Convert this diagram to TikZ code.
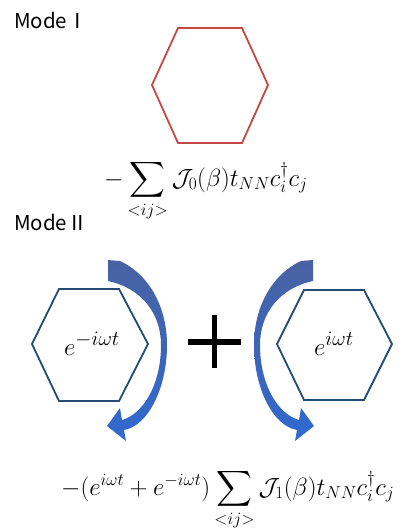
\documentclass[tikz,border=0pt]{standalone}
\usepackage{amsmath}
\usepackage{fontspec}
\newfontfamily\jpfont{Noto Sans CJK JP}
\definecolor{hexred}{RGB}{196,72,70}
\definecolor{hexblue}{RGB}{35,75,115}
\definecolor{arrtop}{RGB}{72,98,162}
\definecolor{arrbot}{RGB}{48,105,208}
\tikzset{
  modelabel/.style={anchor=west,inner sep=0pt,font=\jpfont\fontsize{20.5}{24}\selectfont},
  formulaA/.style={anchor=base west,inner sep=0pt,font=\fontsize{25}{29}\selectfont},
  formulaB/.style={anchor=base west,inner sep=0pt,font=\fontsize{23}{27}\selectfont},
  hextext/.style={anchor=base west,inner sep=0pt,font=\fontsize{32}{36}\selectfont},
  hexline/.style={line width=1.8pt,line join=miter},
  arrowfill/.style={top color=arrtop,bottom color=arrbot}
}
\begin{document}
\begin{tikzpicture}[x=1pt,y=-1pt]
\useasboundingbox (0,0) rectangle (415,531);
% Mode I
\node[modelabel] (m1) at (14,20) {ModeⅠ};
\draw[hexline,hexred] (152,85) -- (178,28) -- (242,28) -- (268,85) -- (242,143) -- (178,143) -- cycle;
\node[formulaA] (f1) at (104,186) {$-\displaystyle\sum_{<ij>}\mathcal{J}_0(\beta)t_{NN}c_i^\dagger c_j$};
% Mode II
\node[modelabel] (m2) at (14,222) {ModeⅡ};
\draw[hexline,hexblue] (32,344) -- (59,289) -- (119,289) -- (148,344) -- (119,401) -- (59,401) -- cycle;
\draw[hexline,hexblue] (277,344) -- (304,290) -- (364,290) -- (392,344) -- (364,400) -- (304,400) -- cycle;
\node[hextext] (tl) at (64,355) {$e^{-i\omega t}$};
\node[hextext] (tr) at (314,355) {$e^{i\omega t}$};
% curved arrows
\shade[arrowfill]
  (108,260) -- (120,261)
  .. controls (150,275) and (167,308) .. (167,345)
  .. controls (167,388) and (148,426) .. (124,430)
  -- (126,441) -- (107,426) -- (120,408) -- (122,420)
  .. controls (143,414) and (161,385) .. (161,345)
  .. controls (161,313) and (141,288) .. (108,281) -- cycle;
\shade[arrowfill]
  (313,260) -- (301,261)
  .. controls (271,275) and (254,308) .. (254,345)
  .. controls (254,388) and (273,426) .. (297,430)
  -- (295,441) -- (314,426) -- (301,408) -- (299,420)
  .. controls (278,414) and (260,385) .. (260,345)
  .. controls (260,313) and (280,288) .. (313,281) -- cycle;
% plus
\draw[line width=6pt] (188,342) -- (241,342);
\draw[line width=5.5pt] (214.5,315) -- (214.5,368);
\node[formulaB] (f2) at (61,495) {$-(e^{i\omega t}+e^{-i\omega t})\displaystyle\sum_{<ij>}\mathcal{J}_1(\beta)t_{NN}c_i^\dagger c_j$};
\end{tikzpicture}
\end{document}
